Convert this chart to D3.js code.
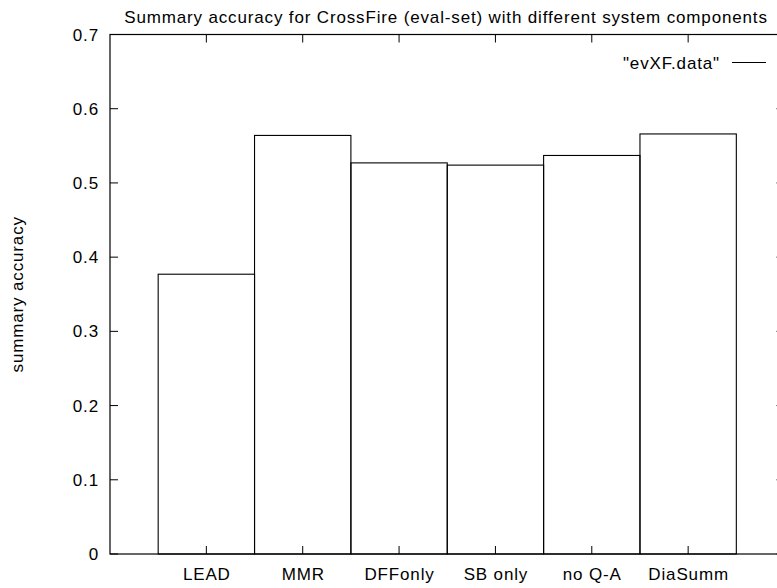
<!DOCTYPE html>
<html>
<head>
<meta charset="utf-8">
<script src="https://cdn.jsdelivr.net/npm/d3@7"></script>
<style>
  html, body { margin: 0; padding: 0; background: #fff; }
  svg { display: block; font-family: "Liberation Sans", Arial, Helvetica, sans-serif; }
  svg text { letter-spacing: 0.85px; }
</style>
</head>
<body>
<svg id="chart" width="777" height="588"></svg>
<script>
// Summary accuracy per system configuration
const categories = ["LEAD", "MMR", "DFFonly", "SB only", "no Q-A", "DiaSumm"];
const accuracy = [0.377, 0.564, 0.527, 0.524, 0.537, 0.566];
const yTicks = [0, 0.1, 0.2, 0.3, 0.4, 0.5, 0.6, 0.7];
const yTickLabels = ["0", "0.1", "0.2", "0.3", "0.4", "0.5", "0.6", "0.7"];
const titleText = "Summary accuracy for CrossFire (eval-set) with different system components";
const yLabelText = "summary accuracy";
const legendText = "\"evXF.data\"";

const svg = d3.select("#chart");
const plotLeft = 110, plotRight = 784.5, plotTop = 34.5, plotBottom = 554;

// x positions: category i sits at i+1, bars are one unit wide and touch
const x = d3.scaleLinear().domain([0, categories.length + 1]).range([plotLeft, plotRight]);
const y = d3.scaleLinear().domain([0, 0.7]).range([plotBottom, plotTop]);

const fontSize = 17;

// Title
svg.append("text")
  .attr("x", 446).attr("y", 22.5)
  .attr("text-anchor", "middle")
  .attr("font-size", fontSize)
  .text(titleText);

// Bars
svg.append("g").selectAll("rect")
  .data(accuracy)
  .join("rect")
  .attr("x", (d, i) => x(i + 0.5))
  .attr("width", (d, i) => x(i + 1.5) - x(i + 0.5))
  .attr("y", d => y(d))
  .attr("height", d => y(0) - y(d))
  .attr("fill", "none")
  .attr("stroke", "#000")
  .attr("stroke-width", 1.1);

// Plot border
svg.append("rect")
  .attr("x", plotLeft).attr("y", plotTop)
  .attr("width", plotRight - plotLeft).attr("height", plotBottom - plotTop)
  .attr("fill", "none")
  .attr("stroke", "#000")
  .attr("stroke-width", 1.2);

// Y axis ticks on both sides
const tickLen = 8;
const yAxisG = svg.append("g");
yAxisG.selectAll("line.l")
  .data(yTicks)
  .join("line")
  .attr("class", "l")
  .attr("x1", plotLeft).attr("x2", plotLeft + tickLen)
  .attr("y1", d => y(d)).attr("y2", d => y(d))
  .attr("stroke", "#000");
yAxisG.selectAll("line.r")
  .data(yTicks)
  .join("line")
  .attr("class", "r")
  .attr("x1", plotRight).attr("x2", plotRight - tickLen)
  .attr("y1", d => y(d)).attr("y2", d => y(d))
  .attr("stroke", "#000");
yAxisG.selectAll("text")
  .data(yTicks)
  .join("text")
  .attr("x", plotLeft - 11)
  .attr("y", d => y(d))
  .attr("dy", "0.36em")
  .attr("text-anchor", "end")
  .attr("font-size", fontSize)
  .text((d, i) => yTickLabels[i]);

// X axis ticks (bottom and mirrored top)
const xIdx = categories.map((c, i) => i + 1);
const xAxisG = svg.append("g");
xAxisG.selectAll("line.b")
  .data(xIdx)
  .join("line")
  .attr("class", "b")
  .attr("x1", d => x(d)).attr("x2", d => x(d))
  .attr("y1", plotBottom).attr("y2", plotBottom - tickLen)
  .attr("stroke", "#000");
xAxisG.selectAll("line.t")
  .data(xIdx)
  .join("line")
  .attr("class", "t")
  .attr("x1", d => x(d)).attr("x2", d => x(d))
  .attr("y1", plotTop).attr("y2", plotTop + tickLen)
  .attr("stroke", "#000");
xAxisG.selectAll("text")
  .data(categories)
  .join("text")
  .attr("x", (d, i) => x(i + 1) + 0.5)
  .attr("y", 580)
  .attr("text-anchor", "middle")
  .attr("font-size", fontSize)
  .text(d => d);

// Y axis label
svg.append("text")
  .attr("transform", `translate(23, ${(plotTop + plotBottom) / 2}) rotate(-90)`)
  .attr("text-anchor", "middle")
  .attr("font-size", fontSize)
  .text(yLabelText);

// Legend
svg.append("text")
  .attr("x", 720).attr("y", 69)
  .attr("text-anchor", "end")
  .attr("font-size", fontSize)
  .text(legendText);
svg.append("line")
  .attr("x1", 732).attr("x2", 766)
  .attr("y1", 62.5).attr("y2", 62.5)
  .attr("stroke", "#000");
</script>
</body>
</html>
